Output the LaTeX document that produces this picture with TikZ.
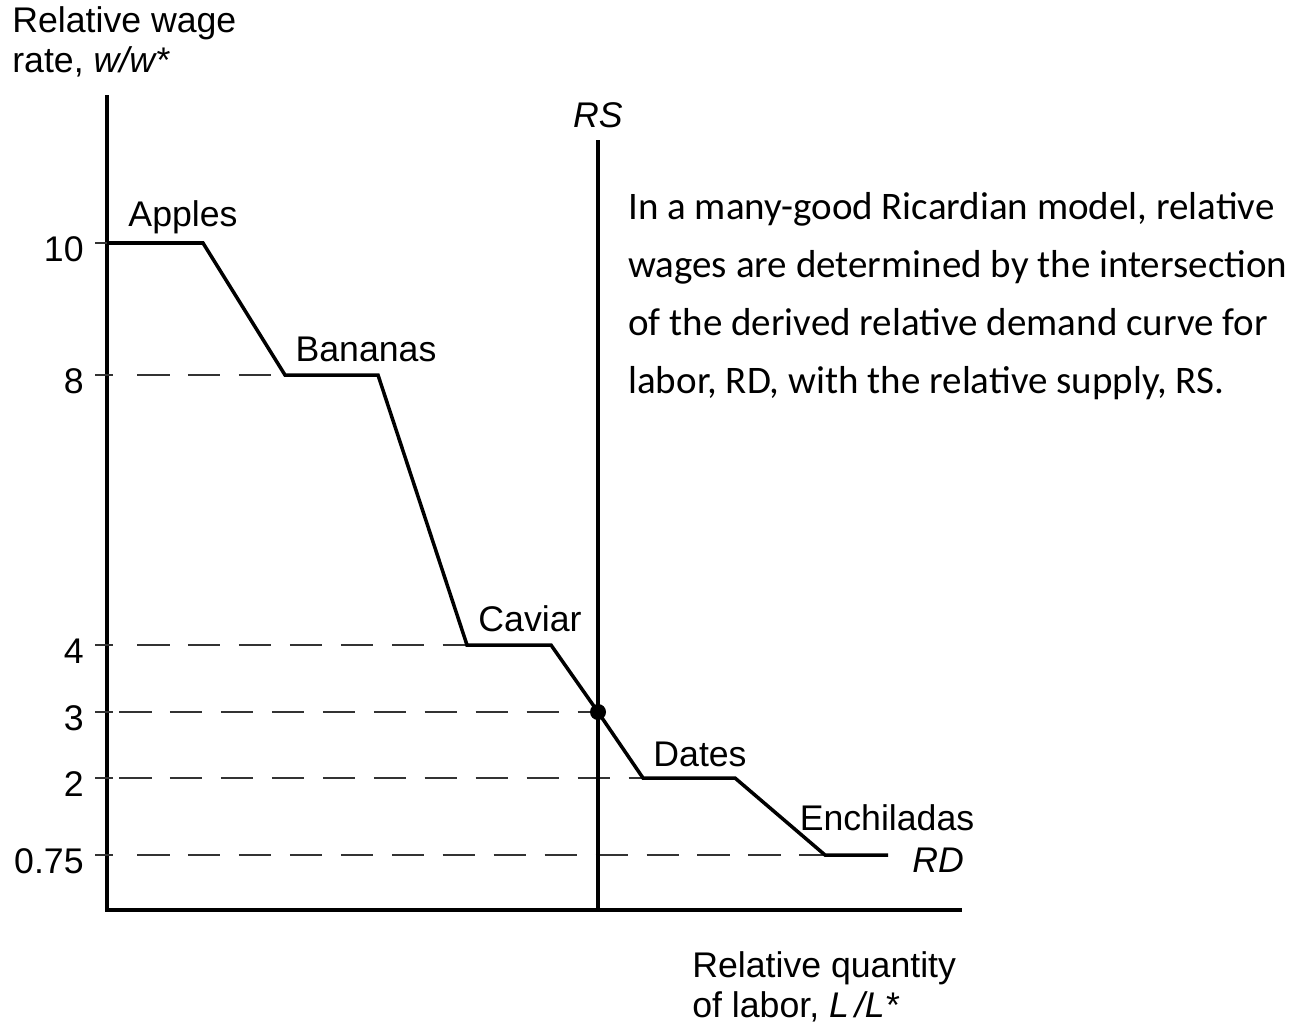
\documentclass[tikz,border=0pt]{standalone}
\usepackage{fontspec}
\setmainfont{Liberation Sans}
\newfontfamily\notefont{Carlito}
\usepackage{tikz}
\usetikzlibrary{positioning, calc}

\begin{document}
\begin{tikzpicture}[
        x=0.02cm, y=-0.02cm,
        axis/.style={line width=2.2pt},
        curve/.style={line width=2pt, line join=miter},
        guide/.style={line width=1.6pt, black!80, dash pattern=on 18.5pt off 10.5pt},
        tick/.style={line width=1.6pt, black!80},
        lbl/.style={font=\fontsize{20.3}{23}\selectfont, inner sep=0pt},
        note/.style={font=\notefont\fontsize{22.2}{33}\selectfont, align=left, inner sep=0pt}
    ]
        \useasboundingbox (0,0) rectangle (1305,1025);

        % Axes
        \coordinate (origin) at (107,910);
        \coordinate (ytop) at (107,95);
        \coordinate (xend) at (962,910);
        \draw[axis] (ytop) -- (origin) -- (xend);

        % Kinks of the RD curve
        \coordinate (a0) at (107,243);
        \coordinate (a1) at (203,243);
        \coordinate (b0) at (285,375);
        \coordinate (b1) at (378,375);
        \coordinate (c0) at (467,645);
        \coordinate (c1) at (551,645);
        \coordinate (eq) at (598,712);
        \coordinate (d0) at (643,778);
        \coordinate (d1) at (735,778);
        \coordinate (e0) at (825,855);
        \coordinate (e1) at (888,855);

        % Guide lines to the wage axis
        \coordinate (y8) at (107,375);
        \coordinate (y4) at (107,645);
        \coordinate (y3) at (107,712);
        \coordinate (y2) at (107,778);
        \coordinate (y075) at (107,855);
        \draw[guide] ($(y8)+(30,0)$) -- (b0);
        \draw[guide] ($(y4)+(30,0)$) -- (c0);
        \draw[guide] ($(y3)+(12,0)$) -- (eq);
        \draw[guide] ($(y2)+(12,0)$) -- (d0);
        \draw[guide] ($(y075)+(30,0)$) -- (e0);
        \foreach \t in {a0, y8, y4, y3, y2, y075}
            \draw[tick] ($(\t)+(-12,0)$) -- ($(\t)+(6,0)$);

        % Relative supply
        \coordinate (rstop) at (598,140);
        \coordinate (rsbot) at (598,910);
        \draw[line width=1.8pt] (rstop) -- (rsbot);
        \node[lbl, font=\fontsize{20.3}{23}\selectfont\itshape, above=7pt of rstop] (rs) {RS};

        % Relative demand
        \draw[curve] (a0) -- (a1) -- (b0) -- (b1) -- (c0) -- (c1) -- (eq) -- (d0) -- (d1) -- (e0) -- (e1);
        \fill (eq) circle (8);
        \node[lbl, font=\fontsize{20.3}{23}\selectfont\itshape] (rd) at (938,860) {RD};

        % Goods
        \node[lbl] (apples) at (183,217) {Apples};
        \node[lbl] (bananas) at (366,349) {Bananas};
        \node[lbl] (caviar) at (530,619) {Caviar};
        \node[lbl] (dates) at (700,754) {Dates};
        \node[lbl] (enchiladas) at (887,818) {Enchiladas};

        % Tick labels
        \node[lbl, anchor=east] (t10) at (84,249) {10};
        \node[lbl, anchor=east] (t8) at (84,381) {8};
        \node[lbl, anchor=east] (t4) at (84,651) {4};
        \node[lbl, anchor=east] (t3) at (84,718) {3};
        \node[lbl, anchor=east] (t2) at (84,784) {2};
        \node[lbl, anchor=east] (t075) at (84,861) {0.75};

        % Axis titles
        \node[lbl, align=left, anchor=north west] (ytitle) at (12,6) {Relative wage\\rate, \textit{w/w*}};
        \node[lbl, align=left, anchor=north west] (xtitle) at (692,951) {Relative quantity\\of labor, \textit{L\,/L*}};

        % Note
        \node[note, anchor=north west] (note) at (628,192) {In a many-good Ricardian model, relative\\wages are determined by the intersection\\of the derived relative demand curve for\\labor, RD, with the relative supply, RS.};
    \end{tikzpicture}
\end{document}
